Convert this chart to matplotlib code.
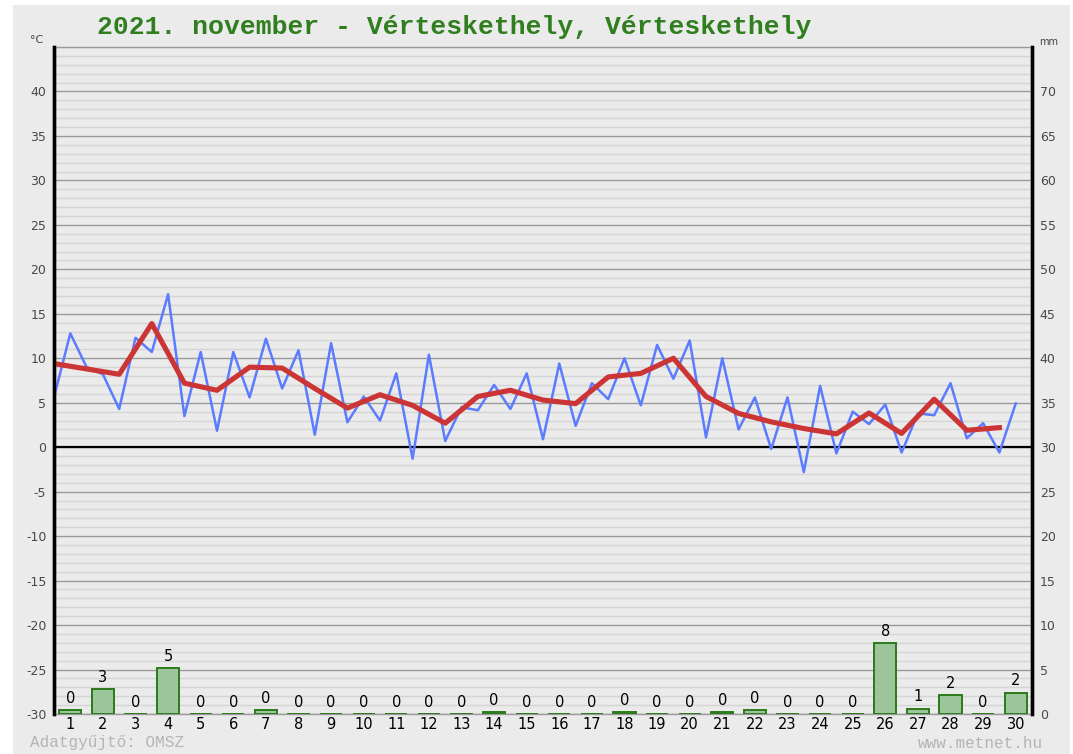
import numpy as np
import matplotlib.pyplot as plt
from matplotlib.patches import Rectangle

plt.rcParams['axes.unicode_minus'] = False

# daily precipitation (mm), days 1..30
days = list(range(1, 31))
precip = [0.4, 2.8, 0, 5.2, 0, 0, 0.4, 0, 0, 0, 0, 0, 0, 0.2, 0,
          0, 0, 0.2, 0, 0, 0.2, 0.4, 0, 0, 0, 8.0, 0.6, 2.1, 0, 2.4]

# daily mean temperature (red), drawn at the start of each day
temp_mean = [9.4, 8.8, 8.2, 13.9, 7.2, 6.4, 9.0, 8.9, 6.6, 4.4,
             5.9, 4.7, 2.7, 5.7, 6.4, 5.3, 4.9, 7.9, 8.3, 10.0,
             5.7, 3.8, 2.85, 2.1, 1.5, 3.85, 1.55, 5.4, 1.9, 2.2]

# 12-hourly temperature readings (blue), from day 0.5 to day 30
temp_12h = [5.6, 12.8, 9.0, 8.2, 4.3, 12.3, 10.7, 17.2, 3.5, 10.7,
            1.85, 10.7, 5.6, 12.2, 6.6, 10.9, 1.4, 11.7, 2.8, 5.7,
            3.0, 8.3, -1.3, 10.4, 0.7, 4.5, 4.15, 7.0, 4.3, 8.3,
            0.9, 9.4, 2.4, 7.2, 5.4, 10.0, 4.7, 11.5, 7.7, 12.0,
            1.1, 10.0, 2.0, 5.6, -0.2, 5.6, -2.8, 6.9, -0.7, 4.0,
            2.6, 4.8, -0.6, 3.8, 3.6, 7.2, 1.0, 2.7, -0.6, 4.9]

left_ticks = list(range(-30, 45, 5))
right_ticks = list(range(0, 75, 5))

BG = '#ebebeb'

fig = plt.figure(figsize=(10.73, 7.54), dpi=100)
fig.patch.set_facecolor('white')
fig.patches.append(Rectangle((13 / 1073, 0), (1070 - 13) / 1073, 1 - 5 / 754,
                             transform=fig.transFigure, facecolor=BG,
                             edgecolor='none', zorder=-10))

ax = fig.add_axes([54 / 1073, 1 - 714 / 754, (1032 - 54) / 1073, (714 - 47) / 754])
ax.set_facecolor(BG)
ax.set_xlim(0.5, 30.5)
ax.set_ylim(-30, 45)

ax.set_yticks(left_ticks)
ax.set_yticks(np.arange(-30, 46, 1), minor=True)
ax.grid(which='minor', axis='y', color='#d5d5d5', lw=1)
ax.grid(which='major', axis='y', color='#9a9a9a', lw=1)
ax.set_axisbelow(True)
ax.axhline(0, color='black', lw=1.6, zorder=2)

x_mean = np.array(days) - 0.5
x_12h = np.arange(1, 61) * 0.5
ax.plot(x_12h, temp_12h, color='#5b7cff', lw=1.8, zorder=3)
ax.plot(x_mean, temp_mean, color='#cc3535', lw=3.7, zorder=4,
        solid_joinstyle='round')

ax.set_xticks(days)
ax.set_xticklabels([str(d) for d in days], fontsize=10.5, color='black')
ax.tick_params(axis='x', length=0, pad=2)
ax.tick_params(axis='y', which='both', length=0, pad=5.5,
               labelsize=9, labelcolor='#484848')

for side in ['left', 'right']:
    ax.spines[side].set_color('black')
    ax.spines[side].set_linewidth(2.4)
for side in ['top', 'bottom']:
    ax.spines[side].set_color('#9a9a9a')
    ax.spines[side].set_linewidth(1)

ax2 = ax.twinx()
ax2.set_ylim(0, 75)
ax2.set_yticks(right_ticks)
ax2.tick_params(axis='y', length=0, pad=5.5, labelsize=9, labelcolor='#484848')
for side in ['left', 'right']:
    ax2.spines[side].set_color('black')
    ax2.spines[side].set_linewidth(2.4)
for side in ['top', 'bottom']:
    ax2.spines[side].set_visible(False)

ax2.bar(days, precip, width=0.68, color='#9cc59c', edgecolor='#2a7a1a',
        linewidth=1.4, zorder=3)
for d, v in zip(days, precip):
    ax2.annotate(str(round(v)), (d, v), xytext=(0, 3), textcoords='offset points',
                 ha='center', va='bottom', fontsize=10.5, color='black')

fig.text(97 / 1073, 1 - 27 / 754, '2021. november - Vérteskethely, Vérteskethely',
         family='Liberation Mono', fontweight='bold', fontsize=19,
         color='#2f7f1f', ha='left', va='center')
fig.text(37 / 1073, 1 - 40 / 754, '°C', fontsize=8, color='#444444',
         ha='center', va='center')
fig.text(1049 / 1073, 1 - 42 / 754, 'mm', fontsize=7, color='#444444',
         ha='center', va='center')
fig.text(30 / 1073, 1 - 743 / 754, 'Adatgyűjtő: OMSZ', family='Liberation Mono',
         fontsize=11.5, color='#b5b5b5', ha='left', va='center')
fig.text(1043 / 1073, 1 - 743 / 754, 'www.metnet.hu', family='Liberation Mono',
         fontsize=11.5, color='#b5b5b5', ha='right', va='center')

fig.savefig('out.png', dpi=100, facecolor=fig.get_facecolor())
